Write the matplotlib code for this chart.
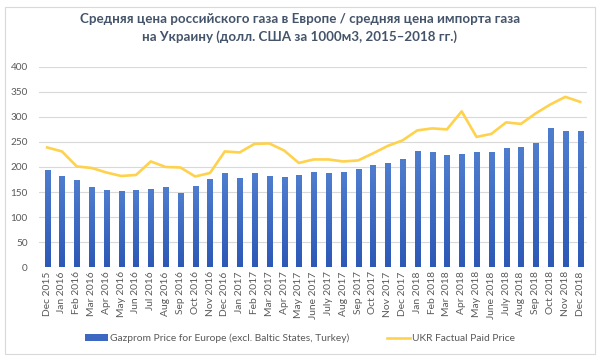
import matplotlib
matplotlib.use('Agg')
import matplotlib.pyplot as plt
import numpy as np
from matplotlib.patches import Rectangle
from matplotlib.colors import LinearSegmentedColormap

plt.rcParams['font.family'] = ['Lato', 'DejaVu Sans']

months = ['Dec 2015', 'Jan 2016', 'Feb 2016', 'Mar 2016', 'Apr 2016', 'May 2016',
          'Jun 2016', 'Jul 2016', 'Aug 2016', 'Sep 2016', 'Oct 2016', 'Nov 2016',
          'Dec 2016', 'Jan 2017', 'Feb 2017', 'Mar 2017', 'Apr 2017', 'May 2017',
          'June 2017', 'July 2017', 'Aug 2017', 'Sep 2017', 'Oct 2017', 'Nov 2017',
          'Dec 2017', 'Jan 2018', 'Feb 2018', 'Mar 2018', 'Apr 2018', 'May 2018',
          'June 2018', 'July 2018', 'Aug 2018', 'Sep 2018', 'Oct 2018', 'Nov 2018',
          'Dec 2018']

# Gazprom price for Europe (bars)
gazprom = [194, 182, 174, 159, 155, 152, 155, 157, 159, 149, 161, 175,
           187, 178, 187, 182, 180, 184, 189, 187, 189, 195, 203, 207,
           215, 231, 229, 224, 226, 230, 230, 237, 240, 247, 277, 271, 271]

# UKR factual paid price (line)
ukr = [239, 231, 201, 198, 189, 182, 184, 211, 200, 199, 181, 188,
       231, 229, 246, 247, 233, 208, 215, 215, 211, 213, 227, 242,
       253, 273, 277, 275, 311, 260, 266, 289, 286, 307, 325, 340, 330]

fig = plt.figure(figsize=(6, 3.61), dpi=100)
ax = fig.add_axes([0.065, 0.26, 0.913, 0.555])

x = np.arange(len(months))
bars = ax.bar(x, gazprom, width=0.34, color='#3C68C2', zorder=2,
              label='Gazprom Price for Europe (excl. Baltic States, Turkey)')

# vertical gradient inside each bar (lighter at top, darker at bottom)
grad = LinearSegmentedColormap.from_list('g', ['#2D58B6', '#4F7DCE'])
for b in bars:
    bx, by = b.get_x(), b.get_y()
    bw, bh = b.get_width(), b.get_height()
    im = ax.imshow(np.linspace(0, 1, 64).reshape(-1, 1), cmap=grad, origin='lower',
                   extent=[bx, bx + bw, by, by + bh], aspect='auto', zorder=2.1)
    im.set_clip_path(b)

line, = ax.plot(x, ukr, color='#FFD24D', lw=1.9, zorder=3, label='UKR Factual Paid Price')

ax.set_ylim(0, 400)
ax.set_xlim(-0.55, len(months) - 0.55)
ax.set_yticks(range(0, 401, 50))
ax.yaxis.grid(True, color='#D9D9D9', lw=0.8, zorder=0)
ax.set_xticks(x)
ax.set_xticklabels(months, rotation=90, fontsize=7.4, color='#595959')
ax.tick_params(axis='y', labelsize=7.2, colors='#595959', length=0, pad=8)
ax.tick_params(axis='x', length=0, pad=3)
for s in ax.spines.values():
    s.set_visible(False)

fig.text(0.5, 0.965, 'Средняя цена российского газа в Европе / средняя цена импорта газа\n'
         'на Украину (долл. США за 1000м3, 2015–2018 гг.)',
         ha='center', va='top', fontsize=9.6, fontweight='bold', color='#44546A',
         linespacing=1.5)

fig.legend(handles=[bars, line], loc='center', bbox_to_anchor=(0.5, 0.062), ncol=2,
           frameon=False, fontsize=7.4, labelcolor='#595959', handlelength=2.3,
           columnspacing=3.6, handletextpad=0.2)

fig.patches.append(Rectangle((0.008, 0.02), 0.984, 0.96, transform=fig.transFigure,
                             fill=False, edgecolor='#D9D9D9', lw=0.8))

fig.savefig('out.png', dpi=100, facecolor='white')
